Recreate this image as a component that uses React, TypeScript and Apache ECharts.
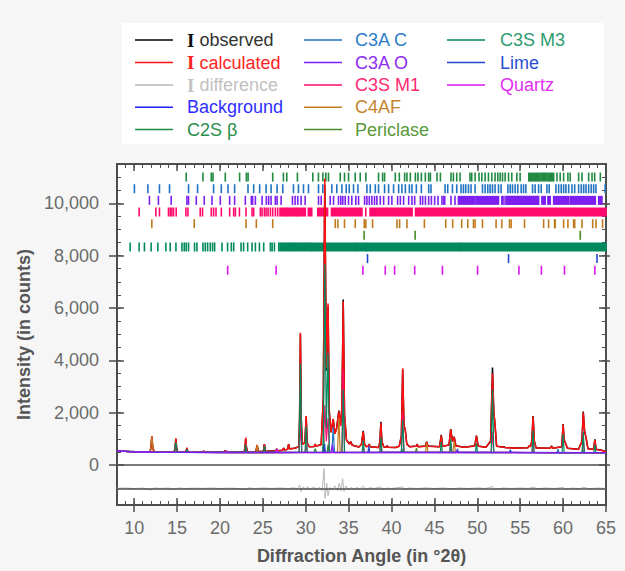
import React, { useEffect, useRef } from "react";
import * as echarts from "echarts";

// ---------- axes ----------
const X_MIN = 8;
const X_MAX = 65;
const Y_MIN = -1530;
const Y_MAX = 11500;
const xTickValues = [10, 15, 20, 25, 30, 35, 40, 45, 50, 55, 60, 65];
const yTickValues = [0, 2000, 4000, 6000, 8000, 10000];
const xMinorValues = Array.from({ length: 57 }, (_, i) => 9 + i);
const yMinorValues = Array.from({ length: 22 }, (_, i) => 500 + i * 500);
const diffBaseline = -890;

// ---------- profiles (2θ, counts) ----------
const observed: number[][] = [
  [8.0, 548], [8.5, 535], [9.0, 522], [9.5, 515], [10.0, 510], [11.0, 503],
  [11.85, 503], [11.95, 650], [12.06, 1075], [12.17, 660], [12.32, 505],
  [13.5, 498], [14.65, 497], [14.76, 620], [14.86, 990], [14.96, 620], [15.08, 498],
  [16.03, 496], [16.15, 640], [16.27, 496],
  [18.0, 492], [18.1, 535], [18.2, 492],
  [20.5, 494], [20.62, 555], [20.74, 495],
  [22.0, 500], [22.83, 505], [22.93, 690], [23.0, 1000], [23.08, 690], [23.2, 508],
  [24.2, 515], [24.33, 760], [24.46, 518],
  [25.06, 525], [25.18, 800], [25.3, 528],
  [26.5, 540], [26.62, 620], [26.74, 545],
  [27.3, 565], [27.42, 650], [27.54, 575],
  [27.88, 600], [28.0, 800], [28.12, 615],
  [28.7, 640], [29.2, 700], [29.28, 1700], [29.38, 5000], [29.48, 1700], [29.6, 800],
  [29.9, 850], [30.05, 1850], [30.17, 850], [30.4, 700],
  [31.0, 710], [31.1, 800], [31.2, 720],
  [31.8, 780], [32.05, 2500], [32.22, 10700], [32.4, 3600], [32.6, 6050], [32.75, 2000], [32.95, 1250],
  [33.2, 1750], [33.4, 1200], [33.6, 1400], [33.86, 2080], [34.05, 1500], [34.22, 2200], [34.37, 6320],
  [34.52, 1900], [34.75, 950],
  [35.1, 800], [35.25, 900], [35.4, 760], [36.2, 690], [36.5, 800], [36.7, 1300], [36.85, 800], [37.05, 700],
  [37.3, 720], [37.4, 800], [37.5, 700], [38.5, 670], [38.65, 900], [38.76, 1650], [38.88, 900], [39.1, 690],
  [39.4, 680], [39.5, 740], [39.6, 680], [40.5, 670], [40.9, 720], [41.15, 1100], [41.3, 3650], [41.45, 1500],
  [41.6, 1350], [41.78, 800], [42.1, 700],
  [42.9, 720], [43.0, 800], [43.1, 700], [43.95, 720], [44.1, 890], [44.25, 720],
  [45.6, 700], [45.8, 1150], [45.95, 720], [46.7, 760], [46.9, 1370], [47.1, 900], [47.3, 1080], [47.5, 730],
  [48.5, 680], [49.7, 730], [49.9, 1120], [50.1, 720],
  [51.0, 680], [51.55, 900], [51.77, 3720], [51.92, 2000], [52.05, 1600], [52.25, 720],
  [53.0, 680], [53.1, 700], [53.2, 670], [54.2, 650], [54.3, 660], [54.45, 645],
  [55.9, 660], [56.05, 740], [56.2, 700], [56.35, 900], [56.5, 1870], [56.65, 900], [56.85, 650],
  [57.3, 650], [58.5, 640], [58.66, 725], [58.8, 640],
  [59.85, 700], [60.0, 1560], [60.12, 950], [60.3, 820], [60.5, 640],
  [61.8, 600], [62.2, 900], [62.35, 2040], [62.5, 1300], [62.7, 1000], [62.9, 620],
  [63.55, 600], [63.7, 980], [63.85, 600], [64.5, 560], [65.0, 510],
];

const calculated: number[][] = [
  [8.0, 545], [8.5, 532], [9.0, 520], [9.5, 512], [10.0, 506], [11.0, 500],
  [11.85, 500], [11.95, 660], [12.06, 1107], [12.17, 665], [12.32, 502],
  [13.5, 495], [14.65, 494], [14.76, 630], [14.86, 1018], [14.96, 630], [15.08, 495],
  [16.03, 493], [16.15, 660], [16.27, 493],
  [18.0, 490], [18.1, 530], [18.2, 490],
  [20.5, 492], [20.62, 550], [20.74, 492],
  [22.0, 497], [22.83, 502], [22.93, 700], [23.0, 1043], [23.08, 700], [23.2, 505],
  [24.2, 512], [24.33, 763], [24.46, 515],
  [25.06, 522], [25.18, 801], [25.3, 525],
  [26.5, 536], [26.62, 610], [26.74, 540],
  [27.3, 560], [27.42, 640], [27.54, 570],
  [27.88, 595], [28.0, 790], [28.12, 610],
  [28.7, 635], [29.2, 695], [29.28, 1750], [29.38, 5050], [29.48, 1750], [29.6, 790],
  [29.9, 840], [30.05, 1870], [30.17, 840], [30.4, 695],
  [31.0, 705], [31.1, 790], [31.2, 715],
  [31.8, 775], [32.05, 2600], [32.22, 10950], [32.4, 3700], [32.6, 6170], [32.75, 2050], [32.95, 1240],
  [33.2, 1760], [33.4, 1190], [33.6, 1390], [33.86, 2050], [34.05, 1480], [34.22, 2250], [34.37, 6250],
  [34.52, 1950], [34.75, 940],
  [35.1, 795], [35.25, 890], [35.4, 755], [36.2, 685], [36.5, 795], [36.7, 1270], [36.85, 795], [37.05, 695],
  [37.3, 715], [37.4, 790], [37.5, 695], [38.5, 665], [38.65, 890], [38.76, 1600], [38.88, 890], [39.1, 685],
  [39.4, 675], [39.5, 730], [39.6, 675], [40.5, 665], [40.9, 715], [41.15, 1120], [41.3, 3690], [41.45, 1520],
  [41.6, 1340], [41.78, 795], [42.1, 695],
  [42.9, 715], [43.0, 790], [43.1, 695], [43.95, 715], [44.1, 880], [44.25, 715],
  [45.6, 695], [45.8, 1120], [45.95, 715], [46.7, 755], [46.9, 1360], [47.1, 890], [47.3, 1070], [47.5, 725],
  [48.5, 675], [49.7, 725], [49.9, 1110], [50.1, 715],
  [51.0, 675], [51.55, 920], [51.77, 3500], [51.92, 2050], [52.05, 1620], [52.25, 715],
  [53.0, 675], [53.1, 695], [53.2, 665], [54.2, 645], [54.3, 655], [54.45, 640],
  [55.9, 655], [56.05, 735], [56.2, 695], [56.35, 910], [56.5, 1850], [56.65, 910], [56.85, 645],
  [57.3, 645], [58.5, 635], [58.66, 720], [58.8, 635],
  [59.85, 695], [60.0, 1540], [60.12, 960], [60.3, 815], [60.5, 635],
  [61.8, 595], [62.2, 910], [62.35, 2000], [62.5, 1320], [62.7, 990], [62.9, 615],
  [63.55, 595], [63.7, 960], [63.85, 595], [64.5, 555], [65.0, 505],
];

const difference: number[][] = [
  [8, -890], [9, -880], [10, -900], [11, -885], [12.06, -960], [12.3, -880], [13, -895], [14, -885],
  [14.86, -930], [15.2, -880], [16, -900], [17, -885], [18, -895], [19, -880], [20, -900], [21, -885],
  [22, -895], [23.0, -940], [23.3, -875], [24, -900], [25, -880], [26, -895], [27, -880], [28, -900],
  [28.6, -870], [29.0, -920], [29.3, -760], [29.45, -1020], [29.7, -830], [30.0, -950], [30.2, -820],
  [30.5, -930], [30.9, -840], [31.3, -930], [31.6, -850], [31.9, -980], [32.15, -130], [32.25, -1270],
  [32.45, -700], [32.6, -1180], [32.8, -860], [33.1, -940], [33.4, -800], [33.7, -980], [33.9, -700],
  [34.1, -990], [34.3, -520], [34.45, -1010], [34.7, -800], [35.0, -960], [35.3, -850], [35.6, -930],
  [36.0, -860], [36.3, -920], [36.7, -800], [37.0, -930], [37.5, -870], [38.0, -900], [38.76, -830],
  [39.0, -930], [39.5, -880], [40.0, -900], [40.5, -875], [41.3, -840], [41.5, -950], [42, -880],
  [43, -900], [44, -875], [45, -900], [46, -880], [47, -905], [48, -880], [49, -900], [50, -875],
  [51, -900], [51.77, -820], [52.0, -940], [53, -880], [54, -900], [55, -880], [56, -895], [56.5, -850],
  [57, -905], [58, -880], [59, -900], [60, -860], [60.3, -920], [61, -885], [62, -900], [62.35, -850],
  [63, -910], [64, -880], [65, -895],
];

const background: number[][] = [
  [8, 540], [9, 515], [10, 500], [12, 488], [15, 478], [20, 474], [30, 476], [40, 478], [50, 478], [60, 474], [65, 470],
];

const c3sM3Profile: number[][] = [
  [8, 540], [10, 500], [12, 488], [14.7, 480], [14.86, 860], [15.02, 480], [16.05, 478], [16.15, 600], [16.25, 478],
  [22.9, 474], [23.0, 780], [23.1, 474], [25.08, 475], [25.18, 720], [25.28, 475], [29.22, 476], [29.38, 3880],
  [29.54, 476], [29.92, 476], [30.05, 1480], [30.18, 476], [32.05, 476], [32.22, 7680], [32.4, 1400], [32.6, 4280],
  [32.76, 476], [34.22, 477], [34.37, 2880], [34.52, 477], [36.58, 477], [36.7, 930], [36.82, 477], [38.64, 478],
  [38.76, 1080], [38.88, 478], [41.15, 478], [41.3, 1730], [41.45, 478], [45.68, 478], [45.8, 880], [45.92, 478],
  [46.78, 478], [46.9, 980], [47.02, 478], [49.78, 478], [49.9, 830], [50.02, 478], [51.62, 478], [51.77, 2880],
  [51.92, 478], [56.38, 476], [56.5, 1330], [56.62, 476], [59.88, 474], [60.0, 1180], [60.12, 474], [62.22, 473],
  [62.35, 1280], [62.48, 473], [63.58, 472], [63.7, 780], [63.82, 472], [65, 470],
];
const c3sM1Profile: number[][] = [
  [8, 540], [10, 500], [12, 488], [22.9, 474], [23.0, 700], [23.1, 474], [29.22, 476], [29.38, 1480], [29.54, 476],
  [29.92, 476], [30.05, 780], [30.18, 476], [32.05, 476], [32.22, 2280], [32.4, 900], [32.6, 1780], [32.76, 476],
  [34.22, 477], [34.37, 3680], [34.52, 477], [36.58, 477], [36.7, 730], [36.82, 477], [38.64, 478], [38.76, 930],
  [38.88, 478], [41.15, 478], [41.3, 1980], [41.45, 478], [46.78, 478], [46.9, 830], [47.02, 478], [51.62, 478],
  [51.77, 1280], [51.92, 478], [56.38, 476], [56.5, 880], [56.62, 476], [62.22, 473], [62.35, 980], [62.48, 473],
  [65, 470],
];
const c4afProfile: number[][] = [
  [8, 540], [10, 500], [11.9, 488], [12.06, 1080], [12.22, 488], [24.2, 475], [24.33, 760], [24.46, 475],
  [33.7, 477], [33.86, 1800], [34.02, 477], [43.95, 478], [44.1, 850], [44.25, 478], [47.15, 478], [47.3, 900],
  [47.45, 478], [65, 470],
];
const c2sProfile: number[][] = [
  [8, 540], [10, 500], [12, 488], [30.95, 476], [31.1, 620], [31.25, 476], [31.95, 476], [32.08, 1180],
  [32.2, 476], [32.5, 476], [32.6, 780], [32.72, 476], [41.1, 478], [41.2, 630], [41.3, 478], [65, 470],
];
const c3aCProfile: number[][] = [
  [8, 540], [10, 500], [12, 488], [33.05, 477], [33.2, 1430], [33.35, 477], [47.6, 478], [47.7, 620],
  [47.8, 478], [59.3, 474], [59.4, 600], [59.5, 474], [65, 470],
];
const c3aOProfile: number[][] = [
  [8, 540], [10, 500], [12, 488], [32.95, 477], [33.1, 780], [33.25, 477], [47.5, 478], [47.6, 560],
  [47.7, 478], [65, 470],
];
const periclaseProfile: number[][] = [
  [8, 540], [10, 500], [12, 488], [42.78, 478], [42.9, 640], [43.02, 478], [62.2, 473], [62.3, 560],
  [62.4, 473], [65, 470],
];
const limeProfile: number[][] = [
  [8, 540], [10, 500], [12, 488], [32.1, 476], [32.2, 800], [32.3, 476], [37.25, 477], [37.35, 730],
  [37.45, 477], [53.75, 478], [53.85, 580], [53.95, 478], [65, 470],
];
const quartzProfile: number[][] = [
  [8, 540], [10, 500], [12, 488], [20.76, 474], [20.86, 540], [20.96, 474], [26.52, 475], [26.64, 610],
  [26.76, 475], [65, 470],
];

// ---------- reflection markers (2θ) ----------
const reflectionRows = [11000, 10555, 10110, 9665, 9220, 8775, 8330, 7885, 7440];

const c2sTicks = [16.07, 18.02, 18.99, 19.19, 20.62, 22.29, 23.08, 23.28, 26.15, 27.4, 27.79, 29.03, 30.82, 31.48,
  31.99, 32.34, 32.65, 34.02, 34.52, 34.99, 35.77, 36.35, 37.01, 38.49, 38.96, 39.19, 40.44, 40.91, 41.53, 41.8,
  42.19, 42.78, 43.08, 43.48, 43.94, 44.33, 44.53, 45.3, 45.7, 46.93, 47.21, 47.6, 47.99, 49.15, 49.35, 49.74,
  50.2, 50.52, 50.91, 51.3, 51.69, 52.07, 52.39, 52.66, 52.94, 53.24, 53.64, 54.02, 54.61, 54.99, 59.28, 59.66,
  60.06, 60.56, 60.83, 61.81, 62.2, 62.98, 63.37, 63.68, 64.34];
const c2sBands = [[56.0, 56.5], [56.65, 57.3], [57.45, 58.1], [58.25, 58.9]];

const c3aCTicks = [10.03, 11.6, 12.95, 14.12, 16.34, 17.39, 19.26, 20.16, 20.94, 21.71, 23.27, 23.93, 24.63, 25.38,
  25.96, 26.66, 27.32, 28.57, 29.15, 29.74, 30.32, 31.49, 31.99, 33.04, 33.62, 34.21, 34.72, 35.07, 35.57, 36.08,
  37.13, 37.52, 38.11, 38.49, 39.19, 39.66, 40.24, 40.83, 41.21, 41.61, 42.08, 42.38, 42.89, 43.48, 44.33, 44.6,
  46.24, 46.55, 47.1, 47.6, 48.1, 48.38, 48.65, 48.97, 49.27, 49.74, 50.6, 50.91, 51.22, 51.49, 51.77, 52.07,
  52.47, 52.77, 53.56, 53.83, 54.1, 54.41, 54.72, 55.11, 55.39, 55.66, 56.44, 56.74, 57.14, 57.45, 58.11, 58.38,
  59.16, 59.48, 59.78, 60.06, 60.33, 60.65, 61.03, 61.35, 61.81, 62.12, 62.4, 62.67, 62.98, 63.28, 63.56, 63.83, 64.9];
const c3aCBands: number[][] = [];

const c3aOTicks = [11.78, 12.83, 14.32, 16.15, 16.34, 17.24, 18.17, 19.07, 20.04, 21.13, 21.71, 22.96, 23.66, 23.81,
  24.13, 24.91, 25.41, 25.68, 25.96, 26.46, 26.66, 27.13, 28.45, 28.76, 29.07, 29.46, 29.93, 31.49, 31.8, 32.85,
  33.24, 33.82, 34.09, 34.32, 34.6, 34.99, 35.37, 35.84, 36.16, 36.86, 37.13, 37.41, 37.71, 38.02, 38.29, 38.69,
  39.08, 39.66, 40.04, 40.71, 41.03, 41.41, 42.0, 42.38, 42.7, 43.36, 43.63, 43.95, 44.33, 44.65, 45.03, 45.42,
  45.88, 46.1, 46.2, 46.93, 47.4, 53.24];
const c3aOBands = [[47.8, 49.74], [49.93, 52.47], [52.86, 53.0], [53.44, 57.14], [57.53, 57.91], [58.23, 58.5],
  [58.9, 60.65], [60.83, 63.75], [64.15, 64.53]];

const c3sM1Ticks = [10.58, 12.53, 12.95, 14.0, 14.2, 14.4, 14.59, 14.9, 16.03, 16.27, 17.7, 17.97, 18.99, 19.26,
  19.54, 20.16, 21.13, 21.6, 21.8, 22.27, 23.04, 23.74, 23.93, 24.71, 24.91, 25.18, 25.38, 25.61, 25.88, 26.15,
  26.46, 26.73, 37.0];
const c3sM1Bands = [[27.0, 27.75], [27.85, 28.9], [29.0, 29.95], [30.3, 30.7], [31.4, 32.55], [33.0, 36.55],
  [37.5, 42.4], [42.8, 49.1], [49.2, 52.35], [52.45, 61.45], [61.55, 65.0]];

const c4afTicks = [12.06, 17.0, 23.04, 24.24, 26.15, 32.19, 33.44, 33.74, 34.52, 35.77, 36.82, 37.01, 37.79, 40.63,
  40.94, 41.8, 43.83, 46.32, 47.13, 48.18, 48.89, 49.55, 49.74, 50.6, 52.19, 52.86, 53.75, 53.94, 55.5, 57.73,
  58.31, 59.01, 59.08, 60.06, 60.56, 61.23, 61.35, 62.2, 63.45, 63.83, 64.6];
const c4afBands: number[][] = [];

const periclaseTicks = [36.8, 42.75, 62.0];
const periclaseBands: number[][] = [];

const c3sM3Ticks = [9.53, 10.58, 11.2, 11.98, 12.76, 13.7, 14.2, 14.87, 15.57, 15.84, 16.07, 16.34, 17.04, 17.32,
  18.02, 18.29, 18.56, 18.87, 19.14, 19.38, 20.24, 20.89, 21.32, 21.6, 22.46, 22.76, 23.23, 23.74, 24.13, 24.6,
  25.1, 25.88, 26.08, 26.35, 26.85];
const c3sM3Bands = [[27.0, 27.95], [28.05, 28.4], [28.5, 30.65], [30.75, 35.72], [35.82, 37.08], [37.18, 47.95],
  [48.05, 65.0]];

const limeTicks = [32.2, 37.2, 53.64, 63.95];
const limeBands: number[][] = [];

const quartzTicks = [20.9, 26.55, 36.66, 39.27, 40.36, 42.7, 45.93, 50.03, 54.85, 57.47, 60.16, 63.7];
const quartzBands: number[][] = [];

// ---------- styling ----------
const FONT = "'Liberation Sans', Arial, Helvetica, sans-serif";
const AXIS_COLOR = "#4d4d4d";
const LABEL_COLOR = "#6b6b6b";
const colors: Record<string, string> = {
  observed: "#000000",
  calculated: "#ff1010",
  difference: "#b8b8b8",
  background: "#2020ff",
  c2s: "#1f8a40",
  c3aC: "#1f73c2",
  c3aO: "#7d1ff0",
  c3sM1: "#ff0a6c",
  c4af: "#c27a1e",
  periclase: "#4a8c24",
  c3sM3: "#00895e",
  lime: "#2347cc",
  quartz: "#dc14ee",
};

const legendEntries = [
  { key: "observed", prefix: "I", label: "observed", col: 0, row: 0, text: "#333333", pre: "#111111" },
  { key: "calculated", prefix: "I", label: "calculated", col: 0, row: 1, text: "#ff2424", pre: "#ff2424" },
  { key: "difference", prefix: "I", label: "difference", col: 0, row: 2, text: "#c2c2c2", pre: "#c2c2c2" },
  { key: "background", prefix: "", label: "Background", col: 0, row: 3, text: "#2f2fff", pre: "" },
  { key: "c2s", prefix: "", label: "C2S β", col: 0, row: 4, text: "#2b8f4c", pre: "" },
  { key: "c3aC", prefix: "", label: "C3A C", col: 1, row: 0, text: "#2a7dc9", pre: "" },
  { key: "c3aO", prefix: "", label: "C3A O", col: 1, row: 1, text: "#8e2cf0", pre: "" },
  { key: "c3sM1", prefix: "", label: "C3S M1", col: 1, row: 2, text: "#ff2a73", pre: "" },
  { key: "c4af", prefix: "", label: "C4AF", col: 1, row: 3, text: "#c4832c", pre: "" },
  { key: "periclase", prefix: "", label: "Periclase", col: 1, row: 4, text: "#5a9a3a", pre: "" },
  { key: "c3sM3", prefix: "", label: "C3S M3", col: 2, row: 0, text: "#2b9b71", pre: "" },
  { key: "lime", prefix: "", label: "Lime", col: 2, row: 1, text: "#2a4fd2", pre: "" },
  { key: "quartz", prefix: "", label: "Quartz", col: 2, row: 2, text: "#e030f0", pre: "" },
];
const legendColX = [135, 304, 447];
const legendTextX = [187, 355, 500];
const legendRowY = [40, 62.5, 85, 107.3, 129.5];

function tickSeries(name: string, singles: number[], bands: number[][], row: number, color: string) {
  const data = singles.map((v) => [v, v, row]).concat(bands.map((b) => [b[0], b[1], row]));
  return {
    type: "custom",
    name,
    silent: true,
    xAxisIndex: 0,
    yAxisIndex: 0,
    encode: { x: [0, 1], y: 2 },
    data,
    renderItem: (_params: any, api: any) => {
      const a = api.coord([api.value(0), api.value(2)]);
      const b = api.coord([api.value(1), api.value(2)]);
      const h = Math.abs(api.size([0, 345])[1]);
      const w = Math.max(b[0] - a[0], 0) + 1.6;
      return {
        type: "rect",
        shape: { x: a[0] - 0.8, y: a[1] - h / 2, width: w, height: h },
        style: { fill: color },
      };
    },
  };
}

function lineSeries(name: string, data: number[][], color: string, width: number, extra: any = {}) {
  return {
    type: "line",
    name,
    data,
    xAxisIndex: 0,
    yAxisIndex: 0,
    symbol: "none",
    showSymbol: false,
    silent: true,
    lineStyle: { color, width },
    itemStyle: { color },
    ...extra,
  };
}

function xAxisDef(position: string, opts: any) {
  return {
    type: "value",
    position,
    min: X_MIN,
    max: X_MAX,
    splitLine: { show: false },
    axisLine: { show: false, onZero: false, lineStyle: { color: AXIS_COLOR, width: 2 } },
    axisLabel: { show: false },
    axisTick: { show: false },
    ...opts,
  };
}
function yAxisDef(position: string, opts: any) {
  return {
    type: "value",
    position,
    min: Y_MIN,
    max: Y_MAX,
    splitLine: { show: false },
    axisLine: { show: false, onZero: false, lineStyle: { color: AXIS_COLOR, width: 2 } },
    axisLabel: { show: false },
    axisTick: { show: false },
    ...opts,
  };
}

export default function App() {
  const ref = useRef<HTMLDivElement>(null);

  useEffect(() => {
    if (!ref.current) return;
    const chart = echarts.init(ref.current, undefined, { renderer: "svg" });

    const majorTick = (values: number[], inside: boolean, length: number) => ({
      show: true,
      inside,
      length,
      customValues: values,
      lineStyle: { color: AXIS_COLOR, width: 1.5 },
    });
    const minorTickStyle = (values: number[], length: number) => ({
      show: true,
      inside: true,
      length,
      customValues: values,
      lineStyle: { color: AXIS_COLOR, width: 1 },
    });

    const xAxes = [
      xAxisDef("bottom", {
        axisLine: { show: true, onZero: false, lineStyle: { color: AXIS_COLOR, width: 2 } },
        axisTick: majorTick(xTickValues, false, 7),
        axisLabel: {
          show: true,
          customValues: xTickValues,
          fontSize: 18,
          color: LABEL_COLOR,
          fontFamily: FONT,
          margin: 14,
        },
        name: "Diffraction Angle (in °2θ)",
        nameLocation: "middle",
        nameGap: 42,
        nameTextStyle: { fontSize: 18, fontWeight: "bold", color: "#555555", fontFamily: FONT },
      }),
      xAxisDef("bottom", { axisTick: majorTick(xTickValues, true, 7) }),
      xAxisDef("bottom", { axisTick: minorTickStyle(xMinorValues, 4) }),
      xAxisDef("top", {
        axisLine: { show: true, onZero: false, lineStyle: { color: AXIS_COLOR, width: 2 } },
        axisTick: majorTick(xTickValues, true, 7),
      }),
      xAxisDef("top", { axisTick: minorTickStyle(xMinorValues, 4) }),
    ];

    const yAxes = [
      yAxisDef("left", {
        axisLine: { show: true, onZero: false, lineStyle: { color: AXIS_COLOR, width: 2 } },
        axisTick: majorTick(yTickValues, false, 8),
        axisLabel: {
          show: true,
          customValues: yTickValues,
          fontSize: 18,
          color: LABEL_COLOR,
          fontFamily: FONT,
          margin: 18,
          formatter: (v: number) => v.toLocaleString("en-US"),
        },
        name: "Intensity (in counts)",
        nameLocation: "middle",
        nameGap: 75,
        nameTextStyle: { fontSize: 18, fontWeight: "bold", color: "#555555", fontFamily: FONT },
      }),
      yAxisDef("left", { axisTick: majorTick(yTickValues, true, 7) }),
      yAxisDef("left", { axisTick: minorTickStyle(yMinorValues, 4) }),
      yAxisDef("right", {
        axisLine: { show: true, onZero: false, lineStyle: { color: AXIS_COLOR, width: 2 } },
        axisTick: majorTick(yTickValues, true, 7),
      }),
      yAxisDef("right", { axisTick: majorTick(yTickValues, false, 4) }),
      yAxisDef("right", { axisTick: minorTickStyle(yMinorValues, 4) }),
    ];

    const series: any[] = [
      tickSeries("C2S β reflections", c2sTicks, c2sBands, reflectionRows[0], colors.c2s),
      tickSeries("C3A C reflections", c3aCTicks, c3aCBands, reflectionRows[1], colors.c3aC),
      tickSeries("C3A O reflections", c3aOTicks, c3aOBands, reflectionRows[2], colors.c3aO),
      tickSeries("C3S M1 reflections", c3sM1Ticks, c3sM1Bands, reflectionRows[3], colors.c3sM1),
      tickSeries("C4AF reflections", c4afTicks, c4afBands, reflectionRows[4], colors.c4af),
      tickSeries("Periclase reflections", periclaseTicks, periclaseBands, reflectionRows[5], colors.periclase),
      tickSeries("C3S M3 reflections", c3sM3Ticks, c3sM3Bands, reflectionRows[6], colors.c3sM3),
      tickSeries("Lime reflections", limeTicks, limeBands, reflectionRows[7], colors.lime),
      tickSeries("Quartz reflections", quartzTicks, quartzBands, reflectionRows[8], colors.quartz),
      lineSeries("I observed", observed, colors.observed, 1.5),
      lineSeries("I calculated", calculated, colors.calculated, 1.5),
      lineSeries("I difference", difference, colors.difference, 1, {
        markLine: {
          silent: true,
          symbol: "none",
          label: { show: false },
          lineStyle: { color: AXIS_COLOR, width: 1.5, type: "solid" },
          data: [{ yAxis: 0 }, { yAxis: diffBaseline }],
        },
      }),
      lineSeries("Background", background, colors.background, 1.2),
      lineSeries("C2S β", c2sProfile, colors.c2s, 1.2),
      lineSeries("C3A C", c3aCProfile, colors.c3aC, 1.2),
      lineSeries("C3S M1", c3sM1Profile, colors.c3sM1, 1.2),
      lineSeries("C4AF", c4afProfile, colors.c4af, 1.2),
      lineSeries("Periclase", periclaseProfile, colors.periclase, 1.2),
      lineSeries("C3S M3", c3sM3Profile, colors.c3sM3, 1.2),
      lineSeries("Lime", limeProfile, colors.lime, 1.2),
      lineSeries("Quartz", quartzProfile, colors.quartz, 1.2),
      lineSeries("C3A O", c3aOProfile, colors.c3aO, 1.4),
    ];

    const legendGraphics: any[] = [
      { type: "rect", shape: { x: 122, y: 23, width: 482, height: 121 }, style: { fill: "#ffffff" }, z: 0 },
    ];
    legendEntries.forEach((e) => {
      const y = legendRowY[e.row];
      const x1 = legendColX[e.col];
      legendGraphics.push({
        type: "line",
        shape: { x1, y1: y, x2: x1 + 38, y2: y },
        style: { stroke: colors[e.key], lineWidth: 1.5 },
        z: 1,
      });
      legendGraphics.push({
        type: "text",
        x: legendTextX[e.col],
        y,
        z: 1,
        style: {
          text: e.prefix ? `{p|${e.prefix}} ${e.label}` : e.label,
          fill: e.text,
          fontSize: 18,
          fontFamily: FONT,
          align: "left",
          verticalAlign: "middle",
          rich: {
            p: {
              fill: e.pre || e.text,
              fontFamily: "'Liberation Serif', 'DejaVu Serif', serif",
              fontWeight: "bold",
              fontSize: 19,
            },
          },
        },
      });
    });

    chart.setOption({
      animation: false,
      backgroundColor: "#f6f6f6",
      textStyle: { fontFamily: FONT },
      grid: {
        left: 117,
        right: 19,
        top: 164,
        bottom: 66,
        show: true,
        backgroundColor: "#ffffff",
        borderWidth: 0,
        containLabel: false,
      },
      xAxis: xAxes,
      yAxis: yAxes,
      series,
      graphic: { elements: legendGraphics },
    });

    return () => chart.dispose();
  }, []);

  return (
    <div
      ref={ref}
      style={{ position: "fixed", left: 0, top: 0, width: 625, height: 571 }}
    />
  );
}
